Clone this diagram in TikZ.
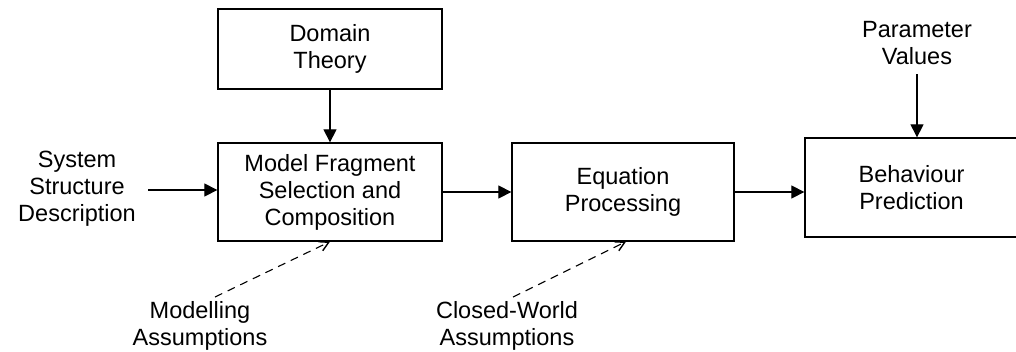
\documentclass[tikz,border=0pt]{standalone}
\usepackage{fontspec}
\setmainfont{Liberation Sans}
\usetikzlibrary{arrows.meta}
\begin{document}
\begin{tikzpicture}[x=1pt,y=-1pt,
  font=\fontsize{23.5}{27}\selectfont,
  box/.style={draw,line width=1.3pt,align=center,inner sep=0pt},
  lbl/.style={align=center,inner sep=0pt},
  flow/.style={line width=1.2pt,-{Triangle[length=13pt,width=13pt]}},
  assume/.style={line width=1.1pt,dash pattern=on 8pt off 6pt,-{Straight Barb[length=9pt,width=10pt,line width=1.4pt]}}]
\useasboundingbox (0,0) rectangle (1016,351);
\node[box,minimum width=224pt,minimum height=80pt] (dt) at (330,49) {Domain\\Theory};
\node[box,minimum width=224pt,minimum height=98pt] (mf) at (330,192) {Model Fragment\\Selection and\\Composition};
\node[box,minimum width=222pt,minimum height=98pt] (eq) at (623,192) {Equation\\Processing};
\node[box,minimum width=213pt,minimum height=99pt] (bp) at (911.5,187.5) {Behaviour\\Prediction};
\node[lbl] (ssd) at (77,189) {System\\Structure\\Description};
\node[lbl] (pv) at (917,43) {Parameter\\Values};
\node[lbl] (ma) at (200,326) {Modelling\\Assumptions};
\node[lbl] (cw) at (507,326) {Closed-World\\Assumptions};
\coordinate (ssdE) at (148,190);
\coordinate (pvS) at (917,74);
\coordinate (maN) at (215,297);
\coordinate (cwN) at (513,297);
\draw[flow] (dt.south) -- (mf.north);
\draw[flow] (ssdE) -- (ssdE -| mf.west);
\draw[flow] (mf.east) -- (eq.west);
\draw[flow] (eq.east) -- (eq.east -| bp.west);
\draw[flow] (pvS) -- (pvS |- bp.north);
\draw[assume] (maN) -- (mf.south);
\draw[assume] (cwN) -- ([xshift=3pt]eq.south);
\end{tikzpicture}
\end{document}
